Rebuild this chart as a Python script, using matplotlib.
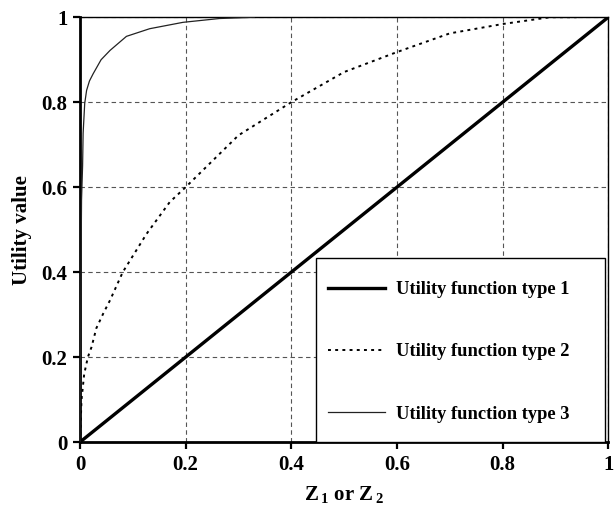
import matplotlib.pyplot as plt
from matplotlib.patches import Rectangle

# Utility function type 1 (linear)
x_tipo1 = [0.0, 0.2, 0.4, 0.6, 0.8, 1.0]
y_tipo1 = [0.0, 0.2, 0.4, 0.6, 0.8, 1.0]

# Utility function type 2 (dotted)
x_tipo2 = [0.0, 0.003, 0.008, 0.015, 0.022, 0.031, 0.045, 0.057, 0.081, 0.126, 0.17,
           0.2, 0.3, 0.4, 0.5, 0.6, 0.7, 0.8, 0.89, 0.94]
y_tipo2 = [0.0, 0.1, 0.16, 0.2, 0.224, 0.268, 0.305, 0.334, 0.4, 0.49, 0.565,
           0.6, 0.722, 0.8, 0.871, 0.918, 0.962, 0.984, 1.0, 1.0]

# Utility function type 3 (steep)
x_tipo3 = [0.0, 0.001, 0.002, 0.003, 0.005, 0.006, 0.009, 0.0126, 0.018, 0.025, 0.04,
           0.057, 0.088, 0.132, 0.195, 0.264, 0.33]
y_tipo3 = [0.0, 0.2, 0.4, 0.57, 0.65, 0.727, 0.797, 0.828, 0.85, 0.867, 0.9,
           0.922, 0.955, 0.973, 0.988, 0.997, 1.0]

ticks = [0, 0.2, 0.4, 0.6, 0.8, 1]
tick_labels = ["0", "0.2", "0.4", "0.6", "0.8", "1"]


def main():
    plt.rcParams['font.family'] = 'Liberation Serif'
    plt.rcParams['font.weight'] = 'bold'
    plt.rcParams['mathtext.fontset'] = 'custom'
    plt.rcParams['mathtext.rm'] = 'Liberation Serif:bold'
    plt.rcParams['mathtext.it'] = 'Liberation Serif:italic:bold'

    fig = plt.figure(figsize=(6.15, 5.07), dpi=100)
    ax = fig.add_axes([0.130, 0.128, 0.859, 0.838])

    l1, = ax.plot(x_tipo1, y_tipo1, color='black', lw=2.4, label='Utility function type 1', zorder=3)
    l2, = ax.plot(x_tipo2, y_tipo2, color='black', lw=1.4, ls=(0, (1.5, 2.2)),
                  label='Utility function type 2', zorder=3)
    l3, = ax.plot(x_tipo3, y_tipo3, color='#222222', lw=0.9, label='Utility function type 3', zorder=3)

    ax.set_xlim(0, 1)
    ax.set_ylim(0, 1)
    ax.set_xticks(ticks)
    ax.set_yticks(ticks)
    ax.set_xticklabels(tick_labels, fontsize=15, fontweight='bold')
    ax.set_yticklabels(tick_labels, fontsize=15, fontweight='bold')
    ax.tick_params(direction='out', length=5, width=1.6, pad=4)

    ax.grid(True, color='#555555', ls=(0, (4, 3)), lw=0.8)
    ax.set_axisbelow(True)

    for lado in ['left', 'bottom']:
        ax.spines[lado].set_linewidth(2.0)
    for lado in ['top', 'right']:
        ax.spines[lado].set_linewidth(1.0)

    ax.set_ylabel("Utility value", fontsize=15, fontweight='bold', labelpad=7)
    ax.set_xlabel(r"$\mathrm{Z}\,_{\mathit{1}}$ or $\mathrm{Z}\,_{\mathit{2}}$", fontsize=15,
                  fontweight='bold', labelpad=7)

    # caja de la leyenda
    caja = Rectangle((0.447, 0.0), 0.547, 0.433, transform=ax.transAxes,
                     facecolor='white', edgecolor='black', lw=1.0, zorder=4)
    ax.add_patch(caja)

    leg = ax.legend(handles=[l1, l2, l3], loc='center left', bbox_to_anchor=(0.447, -0.004, 0.547, 0.433),
                    frameon=False, fontsize=13.3, handlelength=3.1, handletextpad=0.55,
                    labelspacing=2.45, borderpad=0.65, borderaxespad=0)
    leg.set_zorder(5)
    for t in leg.get_texts():
        t.set_fontweight('bold')

    plt.savefig("out.png", dpi=100)


if __name__ == "__main__":
    main()
